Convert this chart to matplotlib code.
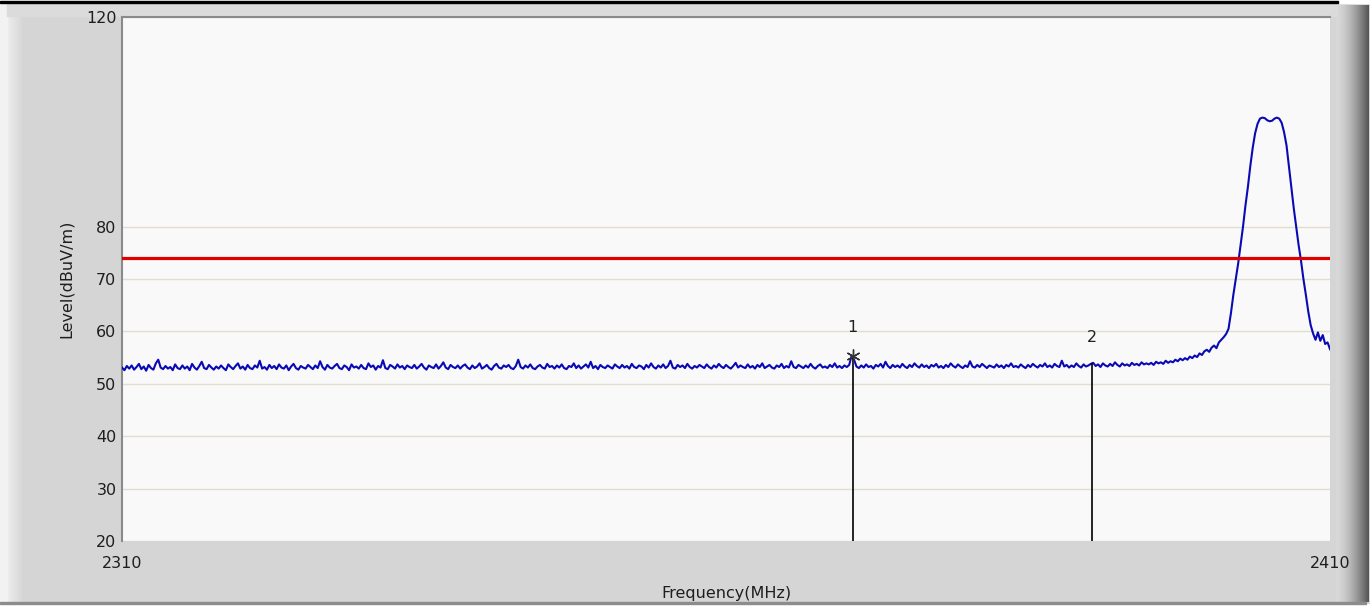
import matplotlib.pyplot as plt
import numpy as np
from matplotlib.patches import Rectangle

# trace levels (dBuV/m), one reading every 0.2 MHz from 2310 to 2410
floor_level = [
    53.1, 52.6, 53.4, 52.9, 53.5, 52.7, 53.2, 53.8, 52.8, 53.3, 52.5, 53.6, 53.0, 52.7, 53.9, 54.6, 53.1, 52.8, 53.4, 52.9,
    53.2, 52.6, 53.7, 53.0, 52.8, 53.5, 52.9, 53.3, 52.6, 53.8, 53.1, 52.7, 53.4, 54.2, 53.0, 52.8, 53.6, 53.1, 52.7, 53.3,
    52.9, 53.5, 53.0, 52.6, 53.7, 53.2, 52.8, 53.4, 53.9, 52.9, 53.3, 52.7, 53.6, 53.0, 52.8, 53.5, 53.1, 54.4, 52.9, 53.2,
    52.7, 53.6, 53.0, 53.4, 52.8, 53.7, 53.1, 52.9, 53.5, 52.6, 53.3, 53.8, 53.0, 52.7, 53.4, 53.1, 52.9, 53.6, 53.2, 52.8,
    53.5, 53.0, 54.3, 53.2, 52.7, 53.6, 53.1, 52.9, 53.4, 53.8, 53.0, 52.8, 53.5, 53.2, 52.6, 53.7, 53.1, 53.3, 52.9, 53.6,
    53.0, 52.8, 53.9, 53.2, 53.5, 52.7, 53.4, 53.1, 54.5, 53.0, 52.8, 53.6, 53.3, 52.9, 53.7, 53.1, 53.4, 52.8, 53.5, 53.2,
    53.0, 53.6, 52.9, 53.3, 53.8, 53.1, 52.7, 53.5, 53.2, 53.0, 53.7, 52.9, 53.4, 54.1, 53.1, 52.8, 53.6, 53.2, 53.0, 53.5,
    52.9, 53.4, 53.7, 53.1, 52.8, 53.5, 53.0, 53.3, 53.9, 52.9, 53.2, 53.6, 53.0, 52.7, 53.4, 53.8, 53.1, 52.9, 53.5, 53.2,
    53.6, 53.0, 52.8, 53.4, 54.6, 53.2, 52.9, 53.5, 53.1, 53.7, 53.0, 52.8, 53.3, 53.6, 53.1, 52.9, 53.8, 53.2, 53.4, 52.9,
    53.5, 53.1, 53.7, 53.0, 52.8, 53.4, 53.2, 53.9, 53.0, 53.5, 52.9, 53.3, 53.7, 53.1, 54.2, 53.0, 53.4, 52.8, 53.6, 53.2,
    53.0, 53.5, 53.2, 52.9, 53.7, 53.3, 53.0, 53.6, 53.1, 53.4, 52.9, 53.8, 53.2, 53.0, 53.5, 53.3, 52.8, 53.6, 53.1, 53.9,
    53.2, 52.9, 53.5, 53.1, 53.7, 53.0, 53.4, 54.4, 53.1, 52.9, 53.6, 53.2, 53.5, 53.0, 53.8, 53.2, 52.9, 53.4, 53.1, 53.6,
    53.3, 53.0, 53.7, 53.2, 52.9, 53.5, 53.1, 53.8, 53.3, 53.0, 53.6, 53.2, 52.9, 53.4, 54.0, 53.1, 53.5, 53.2, 53.0, 53.7,
    53.1, 53.4, 52.9, 53.6, 53.2, 53.9, 53.0, 53.3, 53.6, 53.1, 52.9, 53.5, 53.2, 53.8, 53.0, 53.4, 53.1, 54.3, 53.2, 53.0,
    53.6, 53.3, 53.0, 53.5, 53.1, 53.8, 53.2, 52.9, 53.4, 53.7, 53.1, 53.3, 53.0, 53.6, 53.2, 53.9, 53.1, 53.4, 53.0, 53.5,
    53.2, 53.6, 55.4, 54.6, 53.3, 53.0, 53.5, 53.1, 53.7, 53.2, 53.4, 52.9, 53.6, 53.3, 53.8, 53.1, 54.2, 53.4, 53.0, 53.6,
    53.2, 53.5, 53.1, 53.8, 53.3, 53.0, 53.6, 53.2, 53.9, 53.4, 53.1, 53.7, 53.2, 53.5, 53.0, 53.6, 53.3, 53.8, 53.1, 53.4,
    53.0, 53.6, 53.2, 53.9, 53.4, 53.1, 53.7, 53.3, 53.0, 53.5, 53.2, 54.3, 53.3, 53.1, 53.6, 53.2, 53.8, 53.4, 53.0, 53.5,
    53.3, 53.1, 53.7, 53.2, 53.5, 53.0, 53.6, 53.3, 53.9, 53.2, 53.4, 53.1, 53.7, 53.3, 53.0, 53.6, 53.2, 53.8, 53.4, 53.1,
    53.6, 53.3, 53.9, 53.2, 53.5, 53.1, 53.8, 53.4, 53.2, 54.4, 53.3, 53.6, 53.1, 53.5, 53.2, 53.9, 53.4, 53.1, 53.7, 53.3,
    53.5, 53.8, 54.0, 53.4, 53.7, 53.2, 53.9, 53.5, 53.3, 53.8, 53.4, 54.1, 53.6, 53.3, 53.9, 53.5, 53.7, 53.4, 54.0, 53.6,
    53.8, 53.5, 54.1, 53.7, 53.9,
]
shoulder_level = [
    53.7, 54.0, 53.6, 54.2, 53.9, 54.1, 53.8, 54.4, 54.0, 54.3,
    54.1, 54.6, 54.3, 54.8, 54.5, 54.9, 54.6, 55.2, 54.9, 55.4,
    55.1, 55.8, 55.5, 56.2, 56.5, 56.1, 56.9, 57.3, 56.8, 57.9,
    58.4, 58.9,
]
peak_level = [
    59.5, 60.5, 63.5, 67.0, 70.0, 73.0, 76.5, 80.0, 84.0, 87.5, 91.5,
    95.0, 97.8, 99.6, 100.6, 100.8, 100.7, 100.3, 100.1, 100.2, 100.6, 100.8,
    100.6, 99.8, 98.0, 95.5, 91.5, 87.5, 83.5, 80.0, 76.5, 73.5, 70.0,
    67.0, 63.8, 61.2, 59.6, 58.4, 59.8, 58.2, 59.3, 57.6, 57.9, 56.6,
]
level = floor_level + shoulder_level + peak_level
freq = np.linspace(2310, 2410, len(level))

limit = 74
marker_freq = [2370.5, 2390.3]
marker_level = [55.3, 54.0]
marker_name = ["1", "2"]
marker_text_level = [60.8, 58.9]

yticks = [20, 30, 40, 50, 60, 70, 80, 120]
xticks = [2310, 2410]

plt.rcParams['font.family'] = ['DejaVu Sans']

fig = plt.figure(figsize=(13.7, 6.07), dpi=100, facecolor='#d5d5d5')

# window frame decoration
bg = fig.add_axes([0, 0, 1, 1], zorder=-5)
bg.add_patch(Rectangle((0, 0), 7, 607, color='#f2f2f2'))
bg.add_patch(Rectangle((0, 0), 1370, 3, color='white'))
bg.add_patch(Rectangle((0, 604), 1370, 3, color='white'))
bg.add_patch(Rectangle((0, 602), 1366, 2, color='#8c8c8c'))
bg.add_patch(Rectangle((7, 3), 1330, 13, color='#dbdbdb'))
t = np.linspace(0, 1, 40)
left_shade = (0.93 - 0.095 * t)[None, :, None] * np.ones((1, 1, 3))
bg.imshow(left_shade, extent=(7, 24, 602, 3), aspect='auto', interpolation='bilinear')
right_shade = (0.85 - 0.52 * t ** 1.6)[None, :, None] * np.ones((1, 1, 3))
bg.imshow(right_shade, extent=(1336, 1369, 602, 5), aspect='auto', interpolation='bilinear')
bg.set_xlim(0, 1370)
bg.set_ylim(607, 0)
bg.axis('off')
bg.add_patch(Rectangle((0, 1), 1338, 2, color='black'))

ax = fig.add_axes([122 / 1370, 66 / 607, 1208 / 1370, 524 / 607])
ax.set_facecolor('#f9f9f9')

ax.plot(freq, level, color='#0a0ab4', lw=1.5, zorder=3)
ax.axhline(limit, color='#e00000', lw=2.3, zorder=4)
ax.vlines(marker_freq, 20, marker_level, color='black', lw=1.2, zorder=5)
ax.plot(marker_freq[0], marker_level[0], marker=(6, 2, 0), ms=10, color='#333333',
        mew=1.0, zorder=6)
for f, t_lev, n in zip(marker_freq, marker_text_level, marker_name):
    ax.text(f, t_lev, n, ha='center', va='center', fontsize=11.5, color='#222222')

ax.set_xlim(2310, 2410)
ax.set_ylim(20, 120)
ax.set_xticks(xticks)
ax.set_yticks(yticks)
ax.grid(axis='y', color='#e2ddcc', lw=1.0, zorder=1)
ax.set_axisbelow(True)

for s in ['bottom', 'right']:
    ax.spines[s].set_visible(False)
for s in ['top', 'left']:
    ax.spines[s].set_color('#8a8a8a')
    ax.spines[s].set_linewidth(1.5)

ax.tick_params(axis='both', length=0, labelsize=11.5, labelcolor='#1e1e1e')
ax.tick_params(axis='y', pad=4)
ax.tick_params(axis='x', pad=11)

ax.set_xlabel("Frequency(MHz)", fontsize=11.5, color='#1e1e1e')
ax.set_ylabel("Level(dBuV/m)", fontsize=11.5, color='#1e1e1e')
ax.xaxis.set_label_coords(0.5, -45 / 524)
ax.yaxis.set_label_coords(-56 / 1208, 0.5)
ax.yaxis.label.set_verticalalignment('center')

fig.savefig("out.png", dpi=100, facecolor=fig.get_facecolor())
